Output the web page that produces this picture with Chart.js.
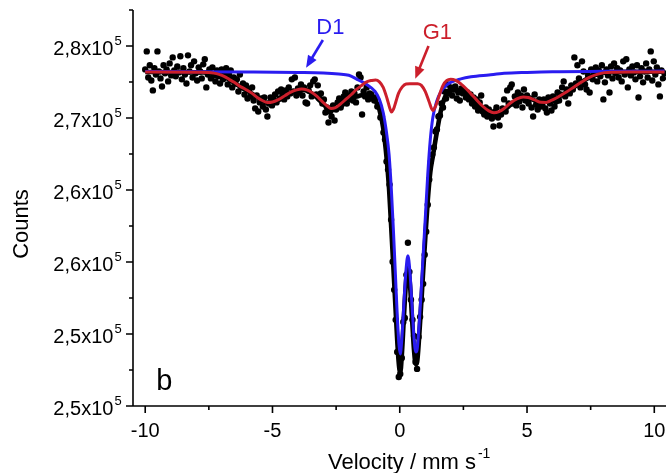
<!DOCTYPE html>
<html>
<head>
<meta charset="utf-8">
<script src="https://cdn.jsdelivr.net/npm/chart.js@4.4.3/dist/chart.umd.min.js"></script>
<style>
  html, body { margin: 0; padding: 0; background: #fff; }
  canvas { display: block; }
</style>
</head>
<body>
<canvas id="chart" width="670" height="473" style="width:670px;height:473px"></canvas>
<script>
// measured spectrum (velocity in mm/s, counts)
const velocity = [
  -10,-9.94,-9.88,-9.82,-9.76,-9.7,-9.64,-9.58,-9.52,-9.46,
  -9.4,-9.34,-9.28,-9.22,-9.16,-9.1,-9.04,-8.98,-8.92,-8.86,
  -8.8,-8.74,-8.68,-8.62,-8.56,-8.5,-8.44,-8.38,-8.32,-8.26,
  -8.2,-8.14,-8.08,-8.02,-7.96,-7.9,-7.84,-7.78,-7.72,-7.66,
  -7.6,-7.54,-7.48,-7.42,-7.36,-7.3,-7.24,-7.18,-7.12,-7.06,
  -7,-6.94,-6.88,-6.82,-6.76,-6.7,-6.64,-6.58,-6.52,-6.46,
  -6.4,-6.34,-6.28,-6.22,-6.16,-6.1,-6.04,-5.98,-5.92,-5.86,
  -5.8,-5.74,-5.68,-5.62,-5.56,-5.5,-5.44,-5.38,-5.32,-5.26,
  -5.2,-5.14,-5.08,-5.02,-4.96,-4.9,-4.84,-4.78,-4.72,-4.66,
  -4.6,-4.54,-4.48,-4.42,-4.36,-4.3,-4.24,-4.18,-4.12,-4.06,
  -4,-3.94,-3.88,-3.82,-3.76,-3.7,-3.64,-3.58,-3.52,-3.46,
  -3.4,-3.34,-3.28,-3.22,-3.16,-3.1,-3.04,-2.98,-2.92,-2.86,
  -2.8,-2.74,-2.68,-2.62,-2.56,-2.5,-2.44,-2.38,-2.32,-2.26,
  -2.2,-2.14,-2.08,-2.02,-1.96,-1.9,-1.84,-1.78,-1.72,-1.66,
  -1.6,-1.54,-1.48,-1.42,-1.36,-1.3,-1.24,-1.18,-1.12,-1.06,
  -1,-0.94,-0.88,-0.82,-0.76,-0.7,-0.64,-0.58,-0.52,-0.46,
  -0.4,-0.34,-0.28,-0.22,-0.16,-0.1,-0.04,0.02,0.08,0.14,
  0.2,0.26,0.32,0.38,0.44,0.5,0.56,0.62,0.68,0.74,
  0.8,0.86,0.92,0.98,1.04,1.1,1.16,1.22,1.28,1.34,
  1.4,1.46,1.52,1.58,1.64,1.7,1.76,1.82,1.88,1.94,
  2,2.06,2.12,2.18,2.24,2.3,2.36,2.42,2.48,2.54,
  2.6,2.66,2.72,2.78,2.84,2.9,2.96,3.02,3.08,3.14,
  3.2,3.26,3.32,3.38,3.44,3.5,3.56,3.62,3.68,3.74,
  3.8,3.86,3.92,3.98,4.04,4.1,4.16,4.22,4.28,4.34,
  4.4,4.46,4.52,4.58,4.64,4.7,4.76,4.82,4.88,4.94,
  5,5.06,5.12,5.18,5.24,5.3,5.36,5.42,5.48,5.54,
  5.6,5.66,5.72,5.78,5.84,5.9,5.96,6.02,6.08,6.14,
  6.2,6.26,6.32,6.38,6.44,6.5,6.56,6.62,6.68,6.74,
  6.8,6.86,6.92,6.98,7.04,7.1,7.16,7.22,7.28,7.34,
  7.4,7.46,7.52,7.58,7.64,7.7,7.76,7.82,7.88,7.94,
  8,8.06,8.12,8.18,8.24,8.3,8.36,8.42,8.48,8.54,
  8.6,8.66,8.72,8.78,8.84,8.9,8.96,9.02,9.08,9.14,
  9.2,9.26,9.32,9.38,9.44,9.5,9.56,9.62,9.68,9.74,
  9.8,9.86,9.92,9.98,10.04,10.1,10.16,10.22,10.28,10.34,
  10.4
];
const counts = [
  274050,275550,273380,274390,273130,272300,274140,273630,275550,273880,
  273300,272630,274390,273720,274050,273050,274550,273550,275050,273970,
  273470,274300,273800,275140,273220,274140,273630,272880,275220,273880,
  274390,273380,274720,273720,273130,274220,273880,273300,274470,274890,
  272550,273630,274050,273300,274220,273550,273050,273970,273470,272880,
  274050,273220,273720,274140,272800,273550,273970,272550,273380,272880,
  273220,272210,273630,272550,272880,271960,272720,271630,272380,271800,
  272550,271460,270800,271880,270540,271300,271630,270960,271710,270710,
  270130,271210,271710,271050,271550,271960,271300,272210,271630,272380,
  271960,271550,272300,271800,272550,272050,273220,272210,273380,271880,
  272460,272130,272800,271880,272550,271300,271210,272300,272720,271800,
  273050,273220,271960,272720,271630,272050,271210,271550,270460,270880,
  269630,270540,270130,271050,269790,270710,271300,271630,270880,271460,
  271800,272130,271210,271880,271630,272210,271460,272050,271300,272550,
  273630,273380,270290,272210,271800,272550,271550,272050,271960,271630,
  271460,271710,270960,271050,270040,270130,268790,268210,266370,265700,
  264450,261530,258020,255680,253180,250500,248420,248670,250000,253010,
  253340,256930,259610,257180,254850,253180,251840,249670,249090,251760,
  253430,254850,256180,258600,260520,262780,264870,266370,266950,267540,
  268870,269040,270130,270210,271210,270880,272210,271630,272800,272050,
  272550,271880,272380,272630,271630,272130,271460,272460,272050,272210,
  271710,272130,271550,271960,271210,271710,270960,271550,270630,271300,
  271880,270540,270290,270880,270130,270710,270460,269960,269290,270540,
  270880,270040,269380,270290,270800,271550,270540,272300,271210,272550,
  272800,271210,271800,271050,272130,271380,271880,270880,272380,271460,
  271880,271210,271630,270880,270130,271960,271130,270710,271550,270960,
  271050,271550,270790,270460,271710,271210,270630,271800,270960,271380,
  272130,271460,271960,272550,273050,271800,272380,271210,272050,272720,
  272380,275050,272880,274390,273300,272550,274720,273880,272800,272380,
  273550,272130,274050,273220,273720,274220,273050,273970,273470,274390,
  271550,272970,274050,273550,272130,274300,273300,274550,273720,274140,
  273380,273970,273050,274720,273630,274890,272550,274050,273550,274300,
  273800,273220,274390,271710,273470,274140,272970,273880,274550,273380,
  274050,275550,273130,274720,273630,274220,272800,271800,273970,273300,
  273720
];

// total fit
const fitVel = [-10,-7.5,-7.1,-6.7,-6.3,-5.8,-5.4,-5.2,-4.75,-4.3,-3.85,-3.45,-3.05,-2.7,-2.35,-2.1,-1.9,-1.7,-1.5,-1.3,
  -1.1,-0.97,-0.8,-0.65,-0.52,-0.42,-0.33,-0.25,-0.17,-0.09,-0.03,0.02,0.08,0.16,0.24,0.32,0.4,0.48,0.56,0.63,
  0.68,0.76,0.84,0.92,1.0,1.1,1.2,1.3,1.45,1.62,1.8,2.0,2.4,2.8,3.25,3.7,4.1,4.6,5.05,5.55,6.15,6.85,7.45,8.05,9.0,10.4];
const fitCounts = [273830,273780,273610,273190,272650,272020,271440,271260,271500,272080,272360,272050,271270,270640,270920,271340,271670,271780,271890,271950,
  271740,271520,270690,269150,266730,264100,260680,257540,254290,251110,249360,248780,250200,253290,256150,257510,256180,253430,250670,249490,
  249650,251670,254370,257210,259880,263100,265480,266810,268730,270650,271860,272340,272240,271570,270690,270210,270650,271490,271650,271280,271670,272580,273390,273780,273850,273860];

// G1 sextet component
const g1Vel = [-10,-7.9,-7.5,-7.3,-7.1,-6.9,-6.7,-6.5,-6.3,-6.05,-5.8,-5.6,-5.4,-5.2,-5.0,-4.75,-4.5,-4.3,-4.05,-3.85,
  -3.65,-3.45,-3.25,-3.05,-2.85,-2.7,-2.55,-2.35,-2.1,-1.9,-1.7,-1.5,-1.3,-1.1,-0.95,-0.8,-0.65,-0.5,-0.4,-0.33,
  -0.25,-0.15,-0.05,0.1,0.25,0.4,0.55,0.7,0.85,1.0,1.15,1.3,1.42,1.55,1.7,1.85,2.0,2.2,2.4,2.6,
  2.8,3.0,3.25,3.5,3.7,3.9,4.1,4.35,4.6,4.85,5.05,5.3,5.55,5.75,5.95,6.15,6.35,6.55,6.85,7.15,
  7.45,7.75,8.05,8.4,9.0,10.4];
const g1Counts = [273830,273820,273800,273740,273630,273470,273220,272970,272670,272380,272050,271710,271460,271300,271340,271550,271880,272130,272340,272420,
  272340,272130,271800,271380,271000,270790,270840,271130,271590,271960,272380,272710,273010,273130,273170,273010,272550,271630,270880,270500,
  270710,271380,272050,272590,272840,272860,272860,272850,272720,272210,271380,270630,271050,271880,272720,273130,273230,273130,272840,272460,
  272010,271550,271000,270590,270440,270540,270790,271250,271590,271760,271710,271510,271310,271300,271460,271670,271920,272170,272590,273010,
  273380,273630,273780,273820,273830,273830];

// D1 doublet component
const d1Vel = [-10,-6,-4,-3,-2.4,-2.0,-1.63,-1.3,-0.97,-0.8,-0.65,-0.52,-0.42,-0.33,-0.25,-0.17,-0.09,-0.03,0.02,0.08,
  0.16,0.24,0.32,0.4,0.48,0.56,0.63,0.68,0.76,0.84,0.92,1.0,1.1,1.2,1.3,1.45,1.62,1.8,2.0,2.4,
  2.8,3.5,4.1,5.0,6.0,8.0,10.4];
const d1Counts = [273880,273830,273790,273750,273670,273560,273170,272800,272210,271550,270460,268790,266960,264030,260690,256930,253180,251090,250340,251510,
  254430,257180,258520,257180,254430,251680,250500,250670,252760,255510,258600,261530,265280,268210,270040,271380,272210,272670,272970,273260,
  273430,273590,273720,273800,273860,273890,273910];

// axes
const xTicks = [-10, -5, 0, 5, 10];
const xMinor = [-7.5, -2.5, 2.5, 7.5];
const yTicks = [246000, 252000, 258000, 264000, 270000, 276000];
const yTickLabels = ['2,5x10', '2,5x10', '2,6x10', '2,6x10', '2,7x10', '2,8x10'];
const yMinor = [249000, 255000, 261000, 267000, 273000, 279000];

const BLUE = '#2a1cf0';
const RED = '#cc1f2b';
const FONT = '"Liberation Sans", Arial, sans-serif';

function arrow(ctx, x1, y1, x2, y2, color) {
  const a = Math.atan2(y2 - y1, x2 - x1);
  const hl = 12, hw = 5;
  ctx.strokeStyle = color;
  ctx.fillStyle = color;
  ctx.lineWidth = 2.6;
  ctx.beginPath();
  ctx.moveTo(x1, y1);
  ctx.lineTo(x2 - hl * 0.8 * Math.cos(a), y2 - hl * 0.8 * Math.sin(a));
  ctx.stroke();
  ctx.beginPath();
  ctx.moveTo(x2, y2);
  ctx.lineTo(x2 - hl * Math.cos(a) + hw * Math.sin(a), y2 - hl * Math.sin(a) - hw * Math.cos(a));
  ctx.lineTo(x2 - hl * Math.cos(a) - hw * Math.sin(a), y2 - hl * Math.sin(a) + hw * Math.cos(a));
  ctx.closePath();
  ctx.fill();
}

const frame = {
  id: 'frame',
  afterDatasetsDraw(chart) {
    const ctx = chart.ctx;
    const xs = chart.scales.x, ys = chart.scales.y;
    const area = chart.chartArea;
    ctx.save();

    // axis lines and ticks
    ctx.strokeStyle = '#000';
    ctx.lineWidth = 1.6;
    ctx.beginPath();
    ctx.moveTo(area.left, area.top);
    ctx.lineTo(area.left, area.bottom);
    ctx.lineTo(area.right, area.bottom);
    xTicks.forEach(v => { const p = xs.getPixelForValue(v); ctx.moveTo(p, area.bottom); ctx.lineTo(p, area.bottom + 7); });
    xMinor.forEach(v => { const p = xs.getPixelForValue(v); ctx.moveTo(p, area.bottom); ctx.lineTo(p, area.bottom + 4); });
    yTicks.forEach(v => { const p = ys.getPixelForValue(v); ctx.moveTo(area.left, p); ctx.lineTo(area.left - 7, p); });
    yMinor.forEach(v => { const p = ys.getPixelForValue(v); ctx.moveTo(area.left, p); ctx.lineTo(area.left - 4, p); });
    ctx.stroke();

    // tick labels
    ctx.fillStyle = '#000';
    ctx.textAlign = 'center';
    ctx.textBaseline = 'alphabetic';
    ctx.font = '20px ' + FONT;
    xTicks.forEach(v => ctx.fillText(v < 0 ? '-' + Math.abs(v) : String(v), xs.getPixelForValue(v), area.bottom + 31));

    yTicks.forEach((v, i) => {
      const p = ys.getPixelForValue(v);
      ctx.font = '13px ' + FONT;
      const ws = ctx.measureText('5').width;
      ctx.textAlign = 'left';
      ctx.fillText('5', area.left - 15 - ws / 2, p - 1);
      ctx.font = '20px ' + FONT;
      ctx.textAlign = 'right';
      ctx.fillText(yTickLabels[i], area.left - 16 - ws / 2, p + 9);
    });

    // axis titles
    ctx.font = '22px ' + FONT;
    ctx.textAlign = 'left';
    ctx.fillText('Velocity / mm s', 328, 469);
    const wt = ctx.measureText('Velocity / mm s').width;
    ctx.font = '14px ' + FONT;
    ctx.fillText('-1', 328 + wt + 2, 458);

    ctx.save();
    ctx.translate(28, 224);
    ctx.rotate(-Math.PI / 2);
    ctx.font = '22px ' + FONT;
    ctx.textAlign = 'center';
    ctx.fillText('Counts', 0, 0);
    ctx.restore();

    // panel letter and component labels
    ctx.font = '29px ' + FONT;
    ctx.textAlign = 'left';
    ctx.fillText('b', xs.getPixelForValue(-9.57), ys.getPixelForValue(247330));

    ctx.font = '22px ' + FONT;
    ctx.fillStyle = BLUE;
    ctx.fillText('D1', xs.getPixelForValue(-3.28), ys.getPixelForValue(276970));
    arrow(ctx, xs.getPixelForValue(-3.02), ys.getPixelForValue(276500), xs.getPixelForValue(-3.68), ys.getPixelForValue(274190), BLUE);

    ctx.fillStyle = RED;
    ctx.fillText('G1', xs.getPixelForValue(0.9), ys.getPixelForValue(276560));
    arrow(ctx, xs.getPixelForValue(1.13), ys.getPixelForValue(276000), xs.getPixelForValue(0.61), ys.getPixelForValue(273270), RED);

    ctx.restore();
  }
};

const pairs = (xv, yv) => xv.map((x, i) => ({ x: x, y: yv[i] }));

new Chart(document.getElementById('chart'), {
  type: 'scatter',
  data: {
    datasets: [
      { label: 'G1', data: pairs(g1Vel, g1Counts), showLine: true, borderColor: RED, borderWidth: 3,
        pointRadius: 0, cubicInterpolationMode: 'monotone', order: 0 },
      { label: 'D1', data: pairs(d1Vel, d1Counts), showLine: true, borderColor: BLUE, borderWidth: 3,
        pointRadius: 0, cubicInterpolationMode: 'monotone', order: 1 },
      { label: 'Fit', data: pairs(fitVel, fitCounts), showLine: true, borderColor: '#000', borderWidth: 4.6,
        pointRadius: 0, cubicInterpolationMode: 'monotone', order: 2 },
      { label: 'Data', data: pairs(velocity, counts), backgroundColor: '#000', borderWidth: 0,
        pointRadius: 3.2, order: 3 }
    ]
  },
  options: {
    responsive: false,
    animation: false,
    layout: { padding: { top: 10, right: 0, left: 0, bottom: 0 } },
    plugins: { legend: { display: false }, tooltip: { enabled: false } },
    scales: {
      x: {
        type: 'linear', min: -10.48, max: 10.46,
        ticks: { display: false }, grid: { display: false }, border: { display: false },
        afterFit: s => { s.height = 67; }
      },
      y: {
        min: 246000, max: 279000,
        ticks: { display: false }, grid: { display: false }, border: { display: false },
        afterFit: s => { s.width = 133; }
      }
    }
  },
  plugins: [frame]
});
</script>
</body>
</html>
